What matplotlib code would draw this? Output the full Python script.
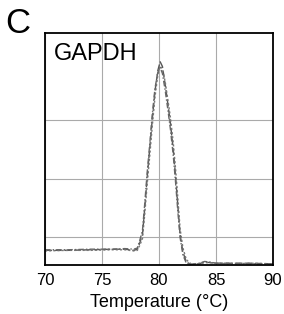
import matplotlib
matplotlib.use("Agg")
import matplotlib.pyplot as plt

temperature = [70, 72, 74, 76, 77, 77.8, 78.1, 78.3, 78.55, 78.75, 78.95, 79.2, 79.4,
               79.65, 79.9, 80.1, 80.3, 80.55, 80.8, 81.0, 81.25, 81.45, 81.65, 81.85,
               82.1, 82.4, 82.8, 83.5, 84, 84.5, 85, 86, 88, 90]

series_a = [-0.22, -0.22, -0.21, -0.20, -0.20, -0.22, -0.20, -0.10, 0.05, 0.50, 1.00, 1.55,
            2.00, 2.50, 2.85, 3.00, 2.92, 2.60, 2.25, 1.95, 1.50, 1.05, 0.55, 0.05,
            -0.25, -0.42, -0.46, -0.45, -0.42, -0.43, -0.44, -0.44, -0.44, -0.45]
series_b = [-0.23, -0.22, -0.22, -0.21, -0.21, -0.23, -0.22, -0.14, -0.02, 0.40, 0.88, 1.42,
            1.88, 2.40, 2.78, 2.92, 2.88, 2.65, 2.32, 2.05, 1.62, 1.18, 0.68, 0.15,
            -0.18, -0.38, -0.45, -0.45, -0.43, -0.43, -0.44, -0.45, -0.44, -0.45]
series_c = [-0.21, -0.21, -0.20, -0.20, -0.19, -0.20, -0.18, -0.06, 0.12, 0.58, 1.08, 1.62,
            2.08, 2.55, 2.82, 2.90, 2.80, 2.50, 2.15, 1.85, 1.40, 0.95, 0.45, 0.00,
            -0.30, -0.44, -0.46, -0.44, -0.41, -0.42, -0.44, -0.44, -0.45, -0.45]

panel_label = "C"
gene_label = "GAPDH"
x_ticks = [70, 75, 80, 85, 90]
y_grid = [0, 1, 2]
x_label = "Temperature (°C)"

plt.rcParams['font.family'] = ['Liberation Sans', 'DejaVu Sans']

fig = plt.figure(figsize=(2.84, 3.14), dpi=100)
ax = fig.add_axes([45/284, 1-265/314, 228/284, 232/314])

ax.plot(temperature, series_a, color="#555555", lw=1.0, ls=(0, (5, 2)))
ax.plot(temperature, series_b, color="#777777", lw=1.0, ls=(0, (1.5, 1.5)))
ax.plot(temperature, series_c, color="#666666", lw=1.0, ls=(0, (4, 1.5, 1, 1.5)))

ax.set_xlim(70, 90)
ax.set_ylim(-0.47, 3.49)
ax.set_xticks(x_ticks)
ax.set_yticks(y_grid)
ax.set_yticklabels([])
ax.tick_params(axis='both', length=0, labelsize=12, pad=6)
ax.grid(True, color="#aaaaaa", lw=0.8)
ax.set_axisbelow(True)
for s in ax.spines.values():
    s.set_linewidth(1.3)
    s.set_color("black")
ax.set_xlabel(x_label, fontsize=13, labelpad=4)
ax.text(0.04, 0.955, gene_label, transform=ax.transAxes, fontsize=17, va="top", ha="left")
fig.text(5/284, 1-7/314, panel_label, fontsize=25, va="top", ha="left")

fig.savefig("out.png", dpi=100)
